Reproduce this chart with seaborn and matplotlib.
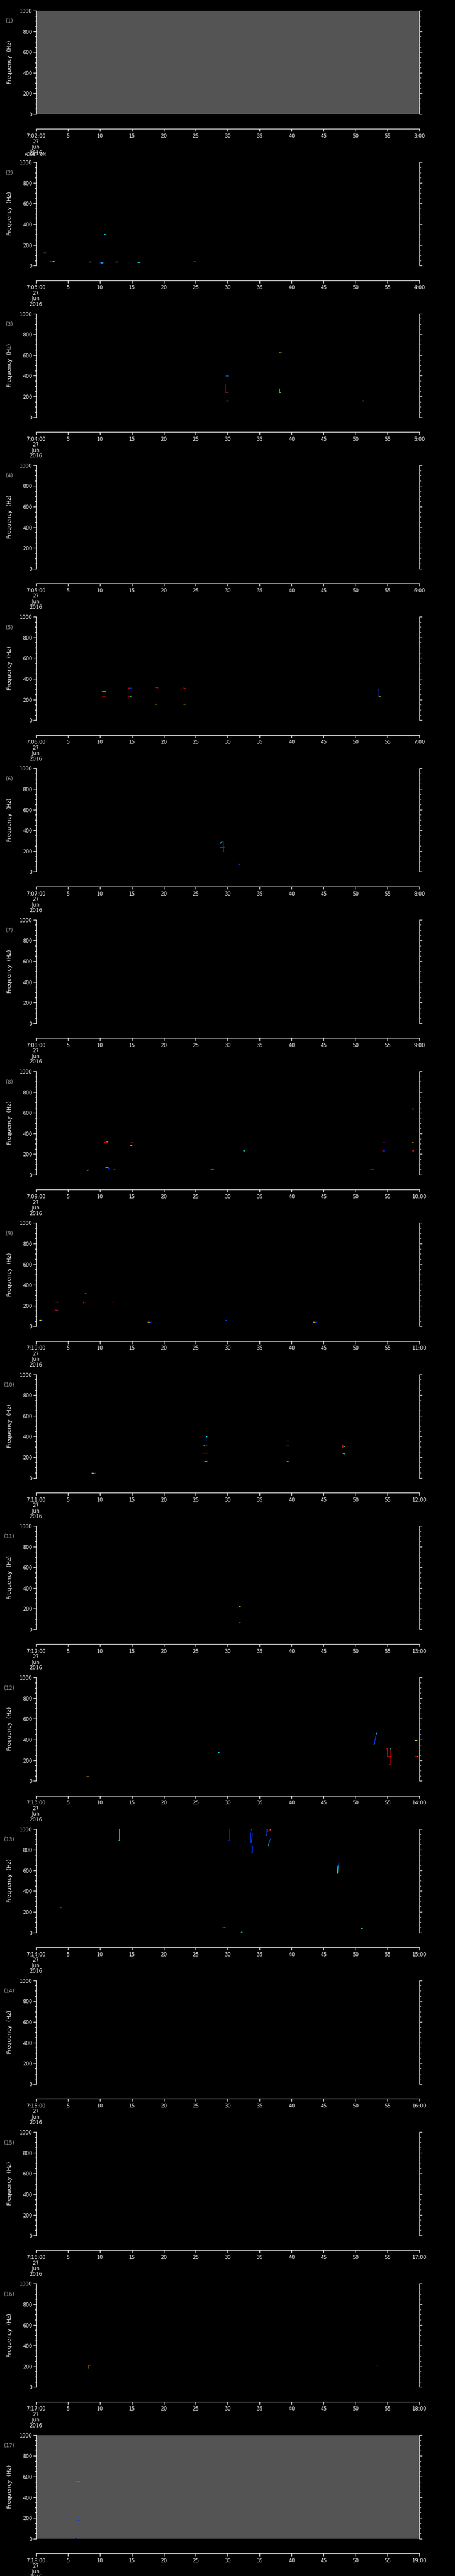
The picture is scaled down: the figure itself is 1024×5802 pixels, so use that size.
import numpy as np
import pandas as pd
import matplotlib
matplotlib.use('Agg')
import matplotlib.pyplot as plt
from matplotlib.ticker import MultipleLocator
import seaborn as sns

# one panel per minute, 7:02 .. 7:18 on 27 Jun 2016
minutes = list(range(2, 19))
no_data = [2, 18]                 # panels drawn on grey
freq_ticks = [0, 200, 400, 600, 800, 1000]
time_ticks = list(range(0, 61, 5))

# colour letter -> position on the jet scale
levels = {'k': 0.03, 'b': 0.18, 'l': 0.28, 'c': 0.36, 'g': 0.52,
          'y': 0.64, 'o': 0.75, 'r': 0.92}

# marks: (t0 s, t1 s, f0 Hz, f1 Hz, colour)
m03 = [(1.10, 1.25, 123, 123, 'r'), (1.25, 1.40, 123, 123, 'y'), (1.40, 1.55, 123, 123, 'c'),
       (2.25, 2.65, 38, 38, 'r'), (2.65, 2.85, 38, 38, 'g'),
       (8.40, 8.50, 35, 35, 'y'), (8.50, 8.60, 35, 35, 'b'),
       (10.0, 10.25, 26, 26, 'b'), (10.25, 10.5, 26, 26, 'c'),
       (10.7, 10.85, 303, 303, 'c'), (10.85, 11.0, 303, 303, 'b'),
       (12.3, 12.55, 34, 34, 'b'), (12.55, 12.8, 34, 34, 'c'),
       (15.9, 16.2, 30, 30, 'c'),
       (24.7, 25.0, 38, 38, 'b')]

m04 = [(38.1, 38.25, 631, 631, 'y'), (38.25, 38.45, 631, 625, 'b'),
       (29.7, 29.9, 396, 396, 'b'), (29.9, 30.1, 398, 398, 'l'),
       (29.6, 29.6, 316, 239, 'r'), (29.6, 29.9, 239, 239, 'r'), (29.9, 30.1, 239, 239, 'b'),
       (38.1, 38.1, 271, 239, 'o'), (38.1, 38.3, 239, 239, 'g'),
       (29.6, 29.9, 159, 159, 'r'), (29.9, 30.1, 159, 159, 'y'),
       (51.1, 51.3, 159, 159, 'c')]

m06 = [(10.4, 10.9, 274, 274, 'c'),
       (10.4, 10.9, 234, 234, 'r'),
       (14.45, 14.7, 311, 311, 'r'), (14.7, 14.9, 309, 309, 'b'),
       (14.4, 14.7, 234, 234, 'r'), (14.7, 14.9, 234, 234, 'g'),
       (18.75, 19.1, 316, 312, 'r'),
       (18.7, 18.8, 157, 157, 'b'), (18.8, 18.9, 157, 157, 'y'),
       (23.1, 23.4, 311, 306, 'r'),
       (23.1, 23.25, 156, 156, 'o'), (23.25, 23.4, 154, 154, 'y'),
       (53.5, 53.65, 300, 296, 'r'), (53.65, 53.65, 296, 234, 'b'), (53.7, 53.9, 234, 234, 'y')]

m07 = [(28.9, 28.95, 275, 282, 'c'), (28.95, 29.1, 282, 291, 'b'), (29.1, 29.3, 291, 288, 'b'),
       (29.3, 29.35, 288, 195, 'b'), (29.35, 29.45, 195, 195, 'b'),
       (28.8, 29.3, 235, 235, 'r'), (29.3, 29.5, 235, 235, 'b'),
       (31.7, 31.9, 70, 70, 'b')]

m09 = [(58.9, 59.0, 634, 634, 'g'), (59.0, 59.1, 634, 634, 'c'),
       (10.7, 11.1, 315, 313, 'r'), (11.1, 11.3, 316, 316, 'c'),
       (14.9, 15.0, 311, 311, 'r'), (15.0, 15.1, 308, 308, 'o'),
       (14.8, 14.95, 282, 282, 'c'), (14.95, 15.1, 282, 282, 'b'),
       (32.5, 32.7, 234, 234, 'c'),
       (54.3, 54.45, 309, 309, 'r'), (54.45, 54.6, 309, 309, 'b'),
       (54.2, 54.35, 234, 234, 'r'), (54.35, 54.5, 234, 234, 'b'),
       (58.8, 58.95, 309, 309, 'y'), (58.95, 59.1, 309, 309, 'c'),
       (58.9, 59.0, 234, 234, 'r'), (59.0, 59.1, 234, 234, 'o'),
       (8.0, 8.15, 44, 44, 'o'), (8.15, 8.3, 47, 47, 'b'),
       (10.9, 11.1, 75, 75, 'y'), (11.1, 11.3, 75, 75, 'g'), (11.3, 11.5, 73, 54, 'b'),
       (12.1, 12.25, 46, 46, 'r'), (12.25, 12.4, 46, 46, 'g'),
       (27.4, 27.6, 46, 46, 'g'), (27.6, 27.8, 46, 46, 'c'),
       (52.3, 52.55, 46, 46, 'r'), (52.55, 52.8, 46, 46, 'c')]

m10 = [(7.6, 7.75, 314, 314, 'b'), (7.75, 7.9, 316, 316, 'o'),
       (3.0, 3.25, 235, 235, 'r'), (3.25, 3.4, 235, 235, 'c'),
       (7.45, 7.9, 233, 233, 'r'), (7.45, 7.45, 233, 224, 'r'),
       (11.9, 12.1, 235, 235, 'r'),
       (3.0, 3.2, 157, 155, 'r'), (3.2, 3.4, 155, 155, 'b'),
       (0.6, 0.8, 59, 59, 'y'), (0.8, 1.0, 57, 57, 'b'),
       (17.5, 17.75, 42, 42, 'o'), (17.75, 18.0, 42, 42, 'b'),
       (29.6, 29.8, 59, 59, 'b'),
       (43.4, 43.65, 42, 42, 'o'), (43.65, 43.9, 42, 42, 'b')]

m11 = [(26.65, 26.65, 360, 394, 'b'), (26.65, 26.8, 397, 397, 'c'),
       (26.3, 26.4, 317, 317, 'y'), (26.4, 26.8, 318, 316, 'r'),
       (26.1, 26.9, 238, 238, 'r'),
       (26.3, 26.5, 157, 157, 'b'), (26.5, 26.8, 157, 157, 'y'),
       (39.3, 39.6, 355, 355, 'b'),
       (39.1, 39.6, 318, 316, 'r'),
       (39.3, 39.5, 157, 157, 'y'),
       (47.95, 47.95, 290, 310, 'r'), (48.02, 48.02, 290, 310, 'r'), (48.0, 48.1, 310, 310, 'r'),
       (48.15, 48.3, 304, 304, 'g'),
       (47.9, 48.1, 237, 237, 'o'), (48.1, 48.3, 234, 232, 'c'),
       (8.8, 9.0, 46, 46, 'y'), (9.0, 9.3, 46, 46, 'b')]

m12 = [(31.8, 31.9, 224, 224, 'c'), (31.9, 32.0, 224, 224, 'y'),
       (31.8, 32.0, 64, 64, 'y')]

m13 = [(52.9, 52.95, 352, 360, 'c'), (52.95, 53.25, 360, 455, 'b'), (53.25, 53.3, 455, 465, 'c'),
       (54.85, 55.0, 312, 312, 'r'), (55.0, 55.0, 312, 235, 'r'), (55.0, 55.6, 235, 235, 'r'),
       (55.4, 55.4, 312, 160, 'r'), (55.4, 55.55, 312, 312, 'c'), (55.25, 55.4, 157, 157, 'o'),
       (59.3, 59.5, 393, 393, 'y'), (59.5, 59.7, 393, 393, 'b'),
       (59.3, 59.55, 235, 235, 'r'), (59.55, 59.8, 235, 235, 'o'),
       (28.5, 28.65, 276, 276, 'c'), (28.65, 28.8, 273, 273, 'b'),
       (7.8, 7.95, 41, 41, 'r'), (7.95, 8.15, 41, 41, 'y'), (8.15, 8.3, 41, 41, 'g')]

m14 = [(13.1, 13.1, 1000, 900, 'c'), (13.1, 13.0, 900, 888, 'c'),
       (30.3, 30.3, 1000, 894, 'b'), (30.3, 30.2, 894, 890, 'b'),
       (33.65, 33.72, 1000, 990, 'b'), (33.72, 33.8, 990, 1000, 'b'),
       (33.6, 33.65, 965, 865, 'b'),
       (33.85, 33.8, 962, 905, 'b'), (33.8, 33.68, 905, 870, 'b'),
       (33.9, 33.85, 830, 775, 'b'), (33.85, 33.72, 775, 775, 'b'),
       (36.05, 36.05, 1000, 940, 'b'), (36.05, 36.15, 940, 945, 'l'),
       (36.2, 36.3, 995, 975, 'b'),
       (36.45, 36.65, 983, 983, 'r'), (36.65, 36.8, 990, 1000, 'o'),
       (36.4, 36.5, 835, 880, 'c'), (36.5, 36.8, 880, 914, 'b'),
       (47.2, 47.25, 576, 640, 'c'), (47.25, 47.45, 640, 681, 'b'),
       (3.8, 3.9, 240, 240, 'r'), (3.9, 4.0, 238, 238, 'b'),
       (29.1, 29.35, 46, 46, 'r'), (29.35, 29.6, 46, 46, 'y'),
       (32.1, 32.3, 3, 3, 'c'),
       (50.9, 51.1, 37, 37, 'c')]

m17 = [(8.3, 8.3, 177, 213, 'o'), (8.3, 8.5, 213, 213, 'o'),
       (53.3, 53.5, 212, 212, 'r')]

m18 = [(6.3, 6.5, 546, 546, 'l'), (6.5, 6.8, 546, 546, 'c'),
       (6.55, 6.75, 175, 175, 'b'),
       (6.2, 6.4, 2, 2, 'k')]

marks = {3: m03, 4: m04, 6: m06, 7: m07, 9: m09, 10: m10, 11: m11,
         12: m12, 13: m13, 14: m14, 17: m17, 18: m18}

# long table, one unit per segment
rows = []
for minute, segs in marks.items():
    for j, (t0, t1, f0, f1, c) in enumerate(segs):
        rows.append((minute, j, t0, f0, levels[c]))
        rows.append((minute, j, t1, f1, levels[c]))
df = pd.DataFrame(rows, columns=['minute', 'unit', 't', 'f', 'level'])

sns.set_theme(style='ticks', rc={'axes.facecolor': 'black', 'figure.facecolor': 'black',
                                 'axes.edgecolor': 'white', 'text.color': 'white',
                                 'xtick.color': 'white', 'ytick.color': 'white'})
plt.rcParams['font.family'] = ['DejaVu Sans']
plt.rcParams['font.stretch'] = 'condensed'

jet = matplotlib.colormaps['jet']

W, H = 1024, 5802
step = H / 17
fig = plt.figure(figsize=(W / 100, H / 100), dpi=100, facecolor='black')

for i, minute in enumerate(minutes):
    top = 24 + i * step
    ax = fig.add_axes([80.8 / W, 1 - (top + 233) / H, 863.2 / W, 233 / H])
    ax.set_facecolor('#545454' if minute in no_data else 'black')

    sub = df[df.minute == minute]
    if len(sub):
        sns.lineplot(data=sub, x='t', y='f', units='unit', hue='level', palette=jet,
                     hue_norm=(0, 1), estimator=None, sort=False, legend=False,
                     lw=1.2, ax=ax)

    ax.set_xlim(0, 60)
    ax.set_ylim(0, 1000)
    ax.set_xlabel('')
    ax.set_ylabel('')

    ax.spines['top'].set_visible(False)
    ax.spines['bottom'].set_position(('outward', 24))
    for s in ['left', 'right', 'bottom']:
        ax.spines[s].set_color('white')
        ax.spines[s].set_linewidth(1.0)

    ax.set_yticks(freq_ticks)
    ax.set_yticklabels([str(v) for v in freq_ticks])
    ax.yaxis.set_minor_locator(MultipleLocator(50))
    ax.tick_params(axis='y', which='both', left=True, right=True, direction='out',
                   colors='white', labelsize=9, pad=2, width=1)
    ax.tick_params(axis='y', which='major', length=4)
    ax.tick_params(axis='y', which='minor', length=2.5)

    labels = [str(t) for t in time_ticks]
    labels[0] = '7:%02d:00\n27\nJun\n2016' % minute
    labels[-1] = '%d:00' % (minute + 1)
    ax.set_xticks(time_ticks)
    ax.set_xticklabels(labels)
    ax.tick_params(axis='x', which='major', direction='out', length=4, width=1,
                   colors='white', labelsize=9, pad=3)
    for lab in ax.get_xticklabels():
        lab.set_linespacing(0.95)

    fig.text(21 / W, 1 - (top + 24) / H, '(%d)' % (i + 1), color='#a8a8a8',
             fontsize=9, ha='center', va='center')
    fig.text(22 / W, 1 - (top + 116) / H, 'Frequency  (Hz)', color='white',
             fontsize=9, fontstretch='normal', rotation=90, ha='center', va='center')

fig.text(80 / W, 1 - 348 / H, 'ADDET_ON', color='white', fontsize=7,
         ha='center', va='center')

fig.savefig('out.png', dpi=100, facecolor='black')
